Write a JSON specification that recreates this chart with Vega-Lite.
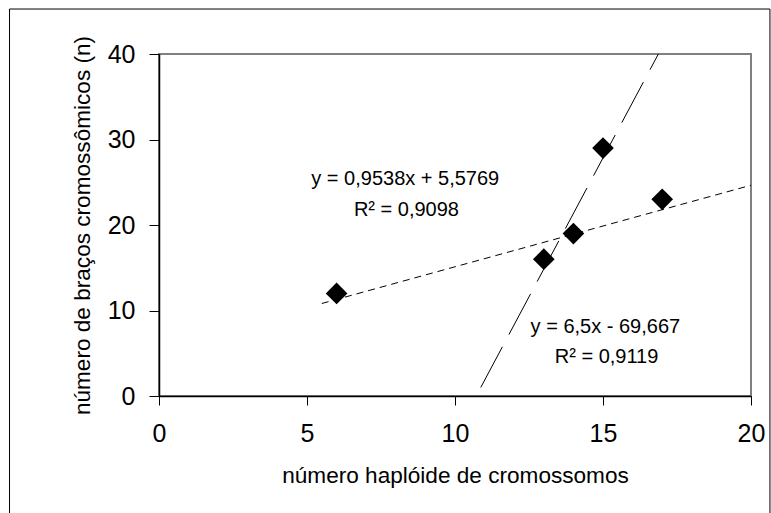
{
  "$schema": "https://vega.github.io/schema/vega-lite/v6.json",
  "width": 592,
  "height": 342,
  "autosize": {"type": "none"},
  "padding": {"left": 159, "top": 54, "right": 20, "bottom": 117},
  "background": "white",
  "config": {
    "view": {"stroke": "#808080", "strokeWidth": 2},
    "axis": {
      "grid": false,
      "labelFont": "Liberation Sans",
      "titleFont": "Liberation Sans",
      "labelColor": "black",
      "titleColor": "black",
      "titleFontWeight": "normal",
      "domainColor": "black",
      "domainWidth": 1.5,
      "tickColor": "black",
      "tickWidth": 1,
      "labelFontSize": 25,
      "titleFontSize": 22.6,
      "labelFlush": false,
      "labelOverlap": false
    },
    "text": {"font": "Liberation Sans"}
  },
  "datasets": {
    "frame": [{}],
    "points": [
      {"x": 6, "y": 12},
      {"x": 13, "y": 16},
      {"x": 14, "y": 19},
      {"x": 15, "y": 29},
      {"x": 17, "y": 23}
    ],
    "trend1": [
      {"x": 5.5, "y": 10.82},
      {"x": 20, "y": 24.65}
    ],
    "trend2": [
      {"x": 10.87, "y": 1.0},
      {"x": 16.87, "y": 40.0}
    ],
    "labels": [
      {"x": 8.32, "y": 25.4, "label": "y = 0,9538x + 5,5769"},
      {"x": 8.36, "y": 21.7, "label": "R² = 0,9098"},
      {"x": 15.08, "y": 8.1, "label": "y = 6,5x - 69,667"},
      {"x": 15.12, "y": 4.6, "label": "R² = 0,9119"}
    ]
  },
  "layer": [
    {
      "data": {"name": "frame"},
      "mark": {"type": "rect", "filled": false, "color": "black", "strokeWidth": 1, "clip": false},
      "encoding": {
        "x": {"datum": -5.05, "type": "quantitative", "scale": {"domain": [0, 20], "nice": false, "zero": false}},
        "x2": {"datum": 20.64},
        "y": {"datum": 45.26, "type": "quantitative", "scale": {"domain": [0, 40], "nice": false, "zero": false}},
        "y2": {"datum": -14.2}
      }
    },
    {
      "data": {"name": "trend1"},
      "mark": {"type": "line", "color": "black", "strokeWidth": 1, "strokeDash": [7, 5]},
      "encoding": {
        "x": {"field": "x", "type": "quantitative", "scale": {"domain": [0, 20], "nice": false}},
        "y": {"field": "y", "type": "quantitative", "scale": {"domain": [0, 40], "nice": false}}
      }
    },
    {
      "data": {"name": "trend2"},
      "mark": {"type": "line", "color": "black", "strokeWidth": 1, "strokeDash": [46, 14]},
      "encoding": {
        "x": {"field": "x", "type": "quantitative", "scale": {"domain": [0, 20], "nice": false}},
        "y": {"field": "y", "type": "quantitative", "scale": {"domain": [0, 40], "nice": false}}
      }
    },
    {
      "data": {"name": "points"},
      "mark": {"type": "point", "shape": "diamond", "filled": true, "color": "black", "opacity": 1, "size": 470},
      "encoding": {
        "x": {
          "field": "x", "type": "quantitative",
          "scale": {"domain": [0, 20], "nice": false},
          "axis": {
            "values": [0, 5, 10, 15, 20],
            "title": "número haplóide de cromossomos",
            "tickSize": 9,
            "labelPadding": 16,
            "titleY": 86,
            "titleBaseline": "alphabetic"
          }
        },
        "y": {
          "field": "y", "type": "quantitative",
          "scale": {"domain": [0, 40], "nice": false},
          "axis": {
            "values": [0, 10, 20, 30, 40],
            "title": "número de braços cromossômicos (n)",
            "tickSize": 10,
            "labelPadding": 14,
            "titleX": -70,
            "titleY": 171,
            "titleAngle": -90,
            "titleAlign": "center",
            "titleBaseline": "alphabetic"
          }
        }
      }
    },
    {
      "data": {"name": "labels"},
      "mark": {"type": "text", "fontSize": 20, "color": "black", "align": "center", "baseline": "middle"},
      "encoding": {
        "x": {"field": "x", "type": "quantitative", "scale": {"domain": [0, 20], "nice": false}},
        "y": {"field": "y", "type": "quantitative", "scale": {"domain": [0, 40], "nice": false}},
        "text": {"field": "label", "type": "nominal"}
      }
    }
  ]
}
